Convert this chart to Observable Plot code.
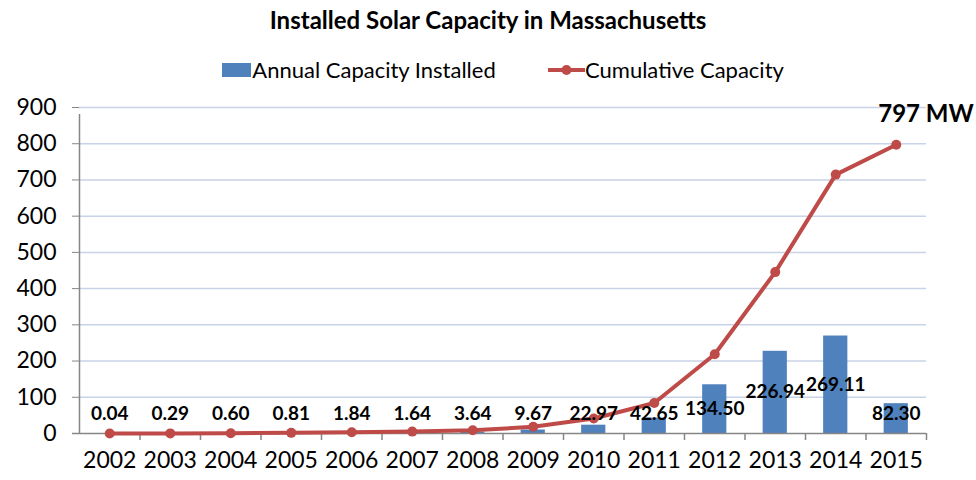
<!DOCTYPE html>
<html><head><meta charset="utf-8">
<script src="https://cdn.jsdelivr.net/npm/d3@7"></script>
<script src="https://cdn.jsdelivr.net/npm/@observablehq/plot@0.6"></script>
<style>
body{margin:0;background:#fff;font-family:Lato,"Liberation Sans",sans-serif;color:#000}
#wrap{width:976px;height:480px;position:relative;overflow:hidden;background:#fff}
#title{position:absolute;top:5px;left:0;width:976px;text-align:center;font-weight:bold;font-size:24px;line-height:30px}
#legend{position:absolute;top:53px;left:0;width:976px;height:30px;font-size:22px;line-height:30px}
.item{position:absolute;top:0;white-space:nowrap}
.sw{display:inline-block;vertical-align:middle}
#chart{position:absolute;top:90px;left:0}
</style></head>
<body><div id="wrap">
<div id="title"></div>
<div id="legend"></div>
<div id="chart"></div>
</div>
<script>
const titleText = "Installed Solar Capacity in Massachusetts";
const seriesNames = ["Annual Capacity Installed", "Cumulative Capacity"];
const years = [2002,2003,2004,2005,2006,2007,2008,2009,2010,2011,2012,2013,2014,2015];
const annual = [0.04,0.29,0.60,0.81,1.84,1.64,3.64,9.67,22.97,42.65,134.50,226.94,269.11,82.30];
const cumulative = [0.04,0.33,0.93,1.74,3.58,5.22,8.86,18.53,41.50,84.15,218.65,445.59,714.70,797];
const yTicks = [0,100,200,300,400,500,600,700,800,900];
const peakLabel = "797 MW";

const barColor = "#4f81bd", lineColor = "#be4b48", axisColor = "#868686", gridColor = "#c8d3e7";

document.getElementById("title").textContent = titleText;
const legend = document.getElementById("legend");
legend.innerHTML =
  `<div class="item" style="left:222px"><span class="sw" style="width:29px;height:14px;background:${barColor}"></span><span style="vertical-align:middle">&#8202;${seriesNames[0]}</span></div>` +
  `<div class="item" style="left:548px"><svg class="sw" width="37" height="14"><line x1="0" y1="7" x2="37" y2="7" stroke="${lineColor}" stroke-width="4"/><circle cx="18.5" cy="7" r="5" fill="${lineColor}"/></svg><span style="vertical-align:middle">${seriesNames[1]}</span></div>`;

const rows = years.map((y, i) => ({year: y, annual: annual[i], cumulative: cumulative[i], label: annual[i].toFixed(2)}));
const bounds = years.map(y => y - 0.5).concat([years[years.length - 1] + 0.5]);
const last = rows[rows.length - 1];

const chart = Plot.plot({
  width: 976, height: 390,
  marginTop: 17, marginBottom: 47, marginLeft: 79, marginRight: 50,
  x: {domain: [bounds[0], bounds[bounds.length - 1]]},
  y: {domain: [0, 900]},
  style: {fontFamily: "Lato, 'Liberation Sans', sans-serif", background: "#fff", color: "#000", overflow: "visible"},
  marks: [
    Plot.gridY(yTicks.filter(t => t > 0), {stroke: gridColor, strokeOpacity: 1, strokeWidth: 1.5}),
    Plot.rectY(rows, {x1: d => d.year - 0.2, x2: d => d.year + 0.2, y: "annual", fill: barColor}),
    Plot.ruleX([bounds[0]], {y1: 0, y2: 900, stroke: axisColor, strokeWidth: 1.5, insetBottom: -7}),
    Plot.ruleY([0], {x1: bounds[0], x2: bounds[bounds.length - 1], stroke: axisColor, strokeWidth: 1.5, insetLeft: -7}),
    Plot.ruleX(bounds.slice(1), {y1: 0, y2: 0, stroke: axisColor, strokeWidth: 1.5, insetBottom: -7}),
    Plot.axisY({ticks: yTicks, tickSize: 7, tickPadding: 16, stroke: axisColor, fill: "#000", fontSize: 23, label: null}),
    Plot.axisX({ticks: years, tickSize: 0, tickPadding: 18, tickFormat: d => String(d), fill: "#000", fontSize: 23, label: null}),
    Plot.line(rows, {x: "year", y: "cumulative", stroke: lineColor, strokeWidth: 4}),
    Plot.dot(rows, {x: "year", y: "cumulative", r: 5, fill: lineColor, stroke: "none"}),
    Plot.text(rows, {x: "year", y: d => Math.max(d.annual / 2, 53), text: "label", fontWeight: "bold", fontSize: 19, fill: "#000"}),
    Plot.text([last], {x: "year", y: "cumulative", text: () => peakLabel, textAnchor: "start", dx: -18, dy: -30, fontWeight: "bold", fontSize: 24, fill: "#000"})
  ]
});
document.getElementById("chart").appendChild(chart);
</script>
</body></html>
